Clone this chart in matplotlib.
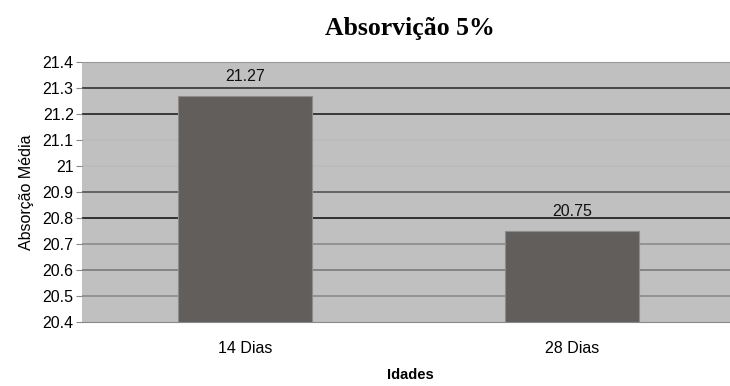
import matplotlib.pyplot as plt
import numpy as np

categories = ['14 Dias', '28 Dias']
values = [21.27, 20.75]
y_ticks = [20.4, 20.5, 20.6, 20.7, 20.8, 20.9, 21.0, 21.1, 21.2, 21.3, 21.4]
y_tick_labels = ['20.4', '20.5', '20.6', '20.7', '20.8', '20.9', '21', '21.1', '21.2', '21.3', '21.4']

# gridline shades (scan makes some lines darker than others)
grid_colors = {20.5: '#8a8a8a', 20.6: '#7a7a7a', 20.7: '#8a8a8a', 20.8: '#1a1a1a',
               20.9: '#555555', 21.0: '#bbbbbb', 21.1: '#bbbbbb', 21.2: '#222222',
               21.3: '#333333'}

plt.rcParams['font.family'] = ['Liberation Sans', 'DejaVu Sans']

fig = plt.figure(figsize=(7.3, 3.86), dpi=100)
W, H = 730, 386
ax = fig.add_axes([82 / W, 1 - 322 / H, (W - 82) / W, (322 - 62) / H])
ax.set_facecolor('#c0c0c0')

x = np.arange(len(categories))
for yv, c in grid_colors.items():
    ax.axhline(yv, color=c, lw=1.2, zorder=1)

bars = ax.bar(x, values, width=0.41, color='#625e5c', edgecolor='#8c8c8c', lw=0.8, zorder=2)
for xi, v in zip(x, values):
    ax.annotate('%.2f' % v, (xi, v), xytext=(0, 14), textcoords='offset points',
                ha='center', va='center', fontsize=11.5, color='#111111')

ax.set_ylim(20.4, 21.4)
ax.set_xlim(-0.5, 1.482)
ax.set_yticks(y_ticks)
ax.set_yticklabels(y_tick_labels, fontsize=11.5)
ax.set_xticks(x)
ax.set_xticklabels(categories, fontsize=11.5)
ax.tick_params(axis='y', length=4, color='#888888', pad=2)
ax.tick_params(axis='x', length=0, pad=14)
for s in ['left', 'right']:
    ax.spines[s].set_visible(False)
ax.spines['top'].set_color('#999999')
ax.spines['bottom'].set_color('#888888')

ax.set_ylabel('Absorção Média', fontsize=11.5, labelpad=6)
fig.text(410 / W, 1 - 375 / H, 'Idades', ha='center', va='center', fontsize=10.5, fontweight='bold')
fig.text(410 / W, 1 - 28 / H, 'Absorvição 5%', ha='center', va='center', fontsize=18.5,
         fontweight='bold', family='Liberation Serif')

fig.savefig('out.png', dpi=100)
